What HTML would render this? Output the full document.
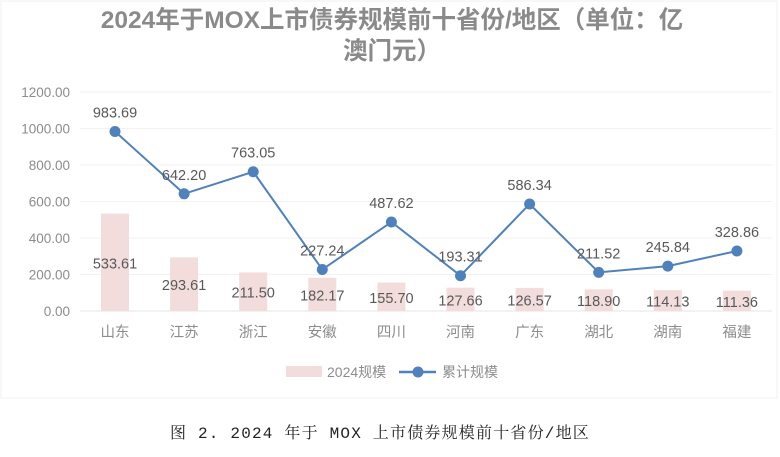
<!DOCTYPE html>
<html><head><meta charset="utf-8"><style>
body{margin:0;background:#fff;width:780px;height:452px;overflow:hidden}
svg text{font-family:"Liberation Sans","Noto Sans CJK SC",sans-serif}
</style></head><body>
<svg width="780" height="452">
<rect x="1" y="1" width="776" height="397" fill="#fff" stroke="#f0f0f0"/>
<text x="392" y="28" text-anchor="middle" font-size="24.5" font-weight="bold" fill="#8a8a8a">2024年于MOX上市债券规模前十省份/地区（单位：亿</text>
<text x="392" y="59" text-anchor="middle" font-size="24.5" font-weight="bold" fill="#8a8a8a">澳门元）</text>
<g id="grid"></g><g id="bars"></g><g id="line"></g><g id="labels"></g>
<g>
<rect x="286" y="366" width="36" height="11" fill="#f2dcdc"/>
<text x="327" y="377" font-size="14" fill="#8c8c8c">2024规模</text>
<line x1="399" y1="372" x2="436" y2="372" stroke="#4f81bd" stroke-width="2.5"/>
<circle cx="418" cy="372" r="5.5" fill="#4f81bd"/>
<text x="442" y="377" font-size="14" fill="#8c8c8c">累计规模</text>
</g>
<text x="380" y="438" text-anchor="middle" font-size="16" letter-spacing="1.2" fill="#222" style="font-family:'Liberation Mono','Noto Serif CJK SC',serif">图 2. 2024 年于 MOX 上市债券规模前十省份/地区</text>
</svg>
<script>
const categories=["山东","江苏","浙江","安徽","四川","河南","广东","湖北","湖南","福建"];
const yearly=[533.61,293.61,211.50,182.17,155.70,127.66,126.57,118.90,114.13,111.36];
const cumulative=[983.69,642.20,763.05,227.24,487.62,193.31,586.34,211.52,245.84,328.86];
const yTicks=[0,200,400,600,800,1000,1200];
const NS="http://www.w3.org/2000/svg";
const y=v=>311-v*219/1200;
const x=i=>115+i*69.1;
function mk(t,a,p){const e=document.createElementNS(NS,t);for(const k in a)e.setAttribute(k,a[k]);p.appendChild(e);return e;}
const g=document.getElementById('grid'),b=document.getElementById('bars'),l=document.getElementById('line'),lb=document.getElementById('labels');
yTicks.forEach(t=>{
 const ln=mk('line',{x1:80,x2:772,y1:y(t),y2:y(t),stroke:t===0?'#e6e6e6':'#f2f2f2','stroke-width':1},g);
 
 
 const tx=mk('text',{x:70,y:y(t)+5,'text-anchor':'end','font-size':13.5,fill:'#8c8c8c'},g);
 tx.textContent=t.toFixed(2);
 
 
});
categories.forEach((c,i)=>{
 const r=mk('rect',{x:x(i)-14,y:y(yearly[i]),width:28,height:311-y(yearly[i]),fill:'#f2dcdc'},b);
 
 
 const t=mk('text',{x:x(i),y:(y(yearly[i])+311)/2+6,'text-anchor':'middle','font-size':14.5,fill:'#595959'},lb);
 t.textContent=yearly[i].toFixed(2);
 
 
 const ct=mk('text',{x:x(i),y:y(cumulative[i])-14,'text-anchor':'middle','font-size':14.5,fill:'#595959'},lb);
 ct.textContent=cumulative[i].toFixed(2);
 
 
 const xt=mk('text',{x:x(i),y:337,'text-anchor':'middle','font-size':14.5,fill:'#8c8c8c'},lb);
 xt.textContent=c;
 
 
});
const pl=mk('polyline',{points:cumulative.map((v,i)=>x(i)+','+y(v)).join(' '),fill:'none',stroke:'#4f81bd','stroke-width':2},l);


cumulative.forEach((v,i)=>{
 const c=mk('circle',{cx:x(i),cy:y(v),r:5.5,fill:'#4f81bd'},l);
 
 
});
</script>
</body></html>
